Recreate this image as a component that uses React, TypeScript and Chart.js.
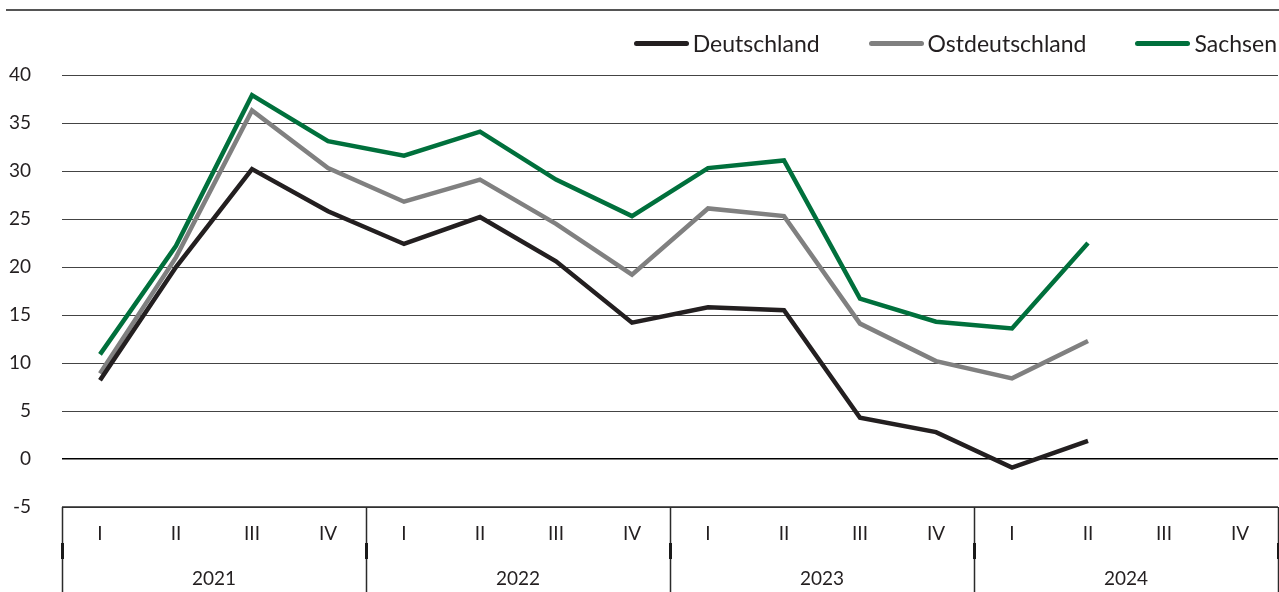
import React, { useEffect, useRef } from "react";
import { Chart, registerables } from "chart.js";

Chart.register(...registerables);

const quarters = ["I", "II", "III", "IV", "I", "II", "III", "IV", "I", "II", "III", "IV", "I", "II", "III", "IV"];
const years = ["2021", "2022", "2023", "2024"];
const seriesNames = ["Deutschland", "Ostdeutschland", "Sachsen"];
const seriesColors = ["#231f20", "#808080", "#00703c"];
const deutschland = [8.2, 20.0, 30.2, 25.8, 22.4, 25.2, 20.6, 14.2, 15.8, 15.5, 4.3, 2.8, -0.9, 1.9, null, null];
const ostdeutschland = [8.9, 21.0, 36.3, 30.3, 26.8, 29.1, 24.5, 19.2, 26.1, 25.3, 14.1, 10.2, 8.4, 12.3, null, null];
const sachsen = [10.9, 22.2, 37.9, 33.1, 31.6, 34.1, 29.1, 25.3, 30.3, 31.1, 16.7, 14.3, 13.6, 22.5, null, null];
const yTicks = [-5, 0, 5, 10, 15, 20, 25, 30, 35, 40];

const FONT = "Lato, 'Noto Sans', sans-serif";

const boxPlugin = {
  id: "boxPlugin",
  afterDraw(chart: any) {
    const { ctx, chartArea } = chart;
    const yr = chart.scales.xYear;
    const bottom = chart.height;
    const half = (yr.getPixelForValue(1) - yr.getPixelForValue(0)) / 2;
    ctx.save();
    ctx.strokeStyle = "#2b2b2b";
    ctx.lineWidth = 1.5;
    ctx.beginPath();
    ctx.moveTo(chartArea.left, chartArea.bottom);
    ctx.lineTo(chartArea.right, chartArea.bottom);
    const xs: number[] = [];
    for (let i = 0; i < years.length; i++) xs.push(yr.getPixelForValue(i) - half);
    xs.push(yr.getPixelForValue(years.length - 1) + half);
    xs.forEach((x) => {
      const xx = Math.round(x) + 0.5;
      ctx.moveTo(xx, chartArea.bottom);
      ctx.lineTo(xx, bottom);
    });
    ctx.stroke();
    ctx.lineWidth = 3;
    ctx.strokeStyle = "#1a1a1a";
    ctx.beginPath();
    xs.forEach((x) => {
      const xx = Math.round(x) + 0.5;
      ctx.moveTo(xx, chartArea.bottom + 36);
      ctx.lineTo(xx, chartArea.bottom + 52);
    });
    ctx.stroke();
    ctx.restore();
  },
};

export default function App() {
  const ref = useRef<HTMLCanvasElement | null>(null);
  useEffect(() => {
    if (!ref.current) return;
    const values = [deutschland, ostdeutschland, sachsen];
    const chart = new Chart(ref.current, {
      type: "line",
      data: {
        labels: quarters,
        datasets: seriesNames.map((name, i) => ({
          label: name,
          data: values[i],
          borderColor: seriesColors[i],
          backgroundColor: seriesColors[i],
          borderWidth: 4.5,
          pointRadius: 0,
          tension: 0,
          xAxisID: "x",
        })),
      },
      options: {
        animation: false,
        responsive: false,
        maintainAspectRatio: false,
        layout: { padding: { left: 0, right: 1, top: 75, bottom: 0 } },
        plugins: {
          tooltip: { enabled: false },
          legend: { display: false },
        },
        scales: {
          x: {
            type: "category",
            offset: true,
            position: "bottom",
            grid: { display: false, drawTicks: false },
            border: { display: false },
            ticks: { color: "#231f20", font: { family: FONT, size: 19 }, padding: 15, maxRotation: 0, autoSkip: false },
            afterFit(scale: any) { scale.height = 45; },
          },
          xYear: {
            type: "category",
            labels: years,
            offset: true,
            position: "bottom",
            grid: { display: false, drawTicks: false },
            border: { display: false },
            ticks: { color: "#231f20", font: { family: FONT, size: 19 }, padding: 15, maxRotation: 0, autoSkip: false },
            afterFit(scale: any) { scale.height = 40; },
          },
          y: {
            min: -5,
            max: 40,
            afterBuildTicks(scale: any) { scale.ticks = yTicks.map((v) => ({ value: v })); },
            grid: {
              drawTicks: false,
              color: (c: any) => (c.tick && c.tick.value === 0 ? "#000000" : "#444444"),
              lineWidth: (c: any) => (c.tick && c.tick.value === 0 ? 1.5 : 1),
            },
            border: { display: false },
            ticks: { color: "#231f20", font: { family: FONT, size: 19 }, padding: 31 },
            afterFit(scale: any) { scale.width = 62; },
          },
        },
      },
      plugins: [boxPlugin],
    });
    return () => chart.destroy();
  }, []);
  return (
    <div style={{ position: "absolute", left: 0, top: 0, width: 1279, height: 592, background: "#fff", overflow: "hidden" }}>
      <div style={{ position: "absolute", left: 6, top: 9, width: 1273, height: 2, background: "#555" }} />
      <canvas ref={ref} width={1279} height={592} style={{ position: "absolute", left: 0, top: 0, width: 1279, height: 592 }} />
      <div
        style={{
          position: "absolute",
          right: 2,
          top: 30,
          height: 26,
          display: "flex",
          alignItems: "center",
          gap: 49,
          fontFamily: FONT,
          fontSize: 23,
          color: "#231f20",
          lineHeight: "26px",
        }}
      >
        {seriesNames.map((name, i) => (
          <div key={name} style={{ display: "flex", alignItems: "center", gap: 4 }}>
            <span style={{ display: "inline-block", width: 55, height: 5, borderRadius: 3, background: seriesColors[i] }} />
            <span>{name}</span>
          </div>
        ))}
      </div>
    </div>
  );
}
